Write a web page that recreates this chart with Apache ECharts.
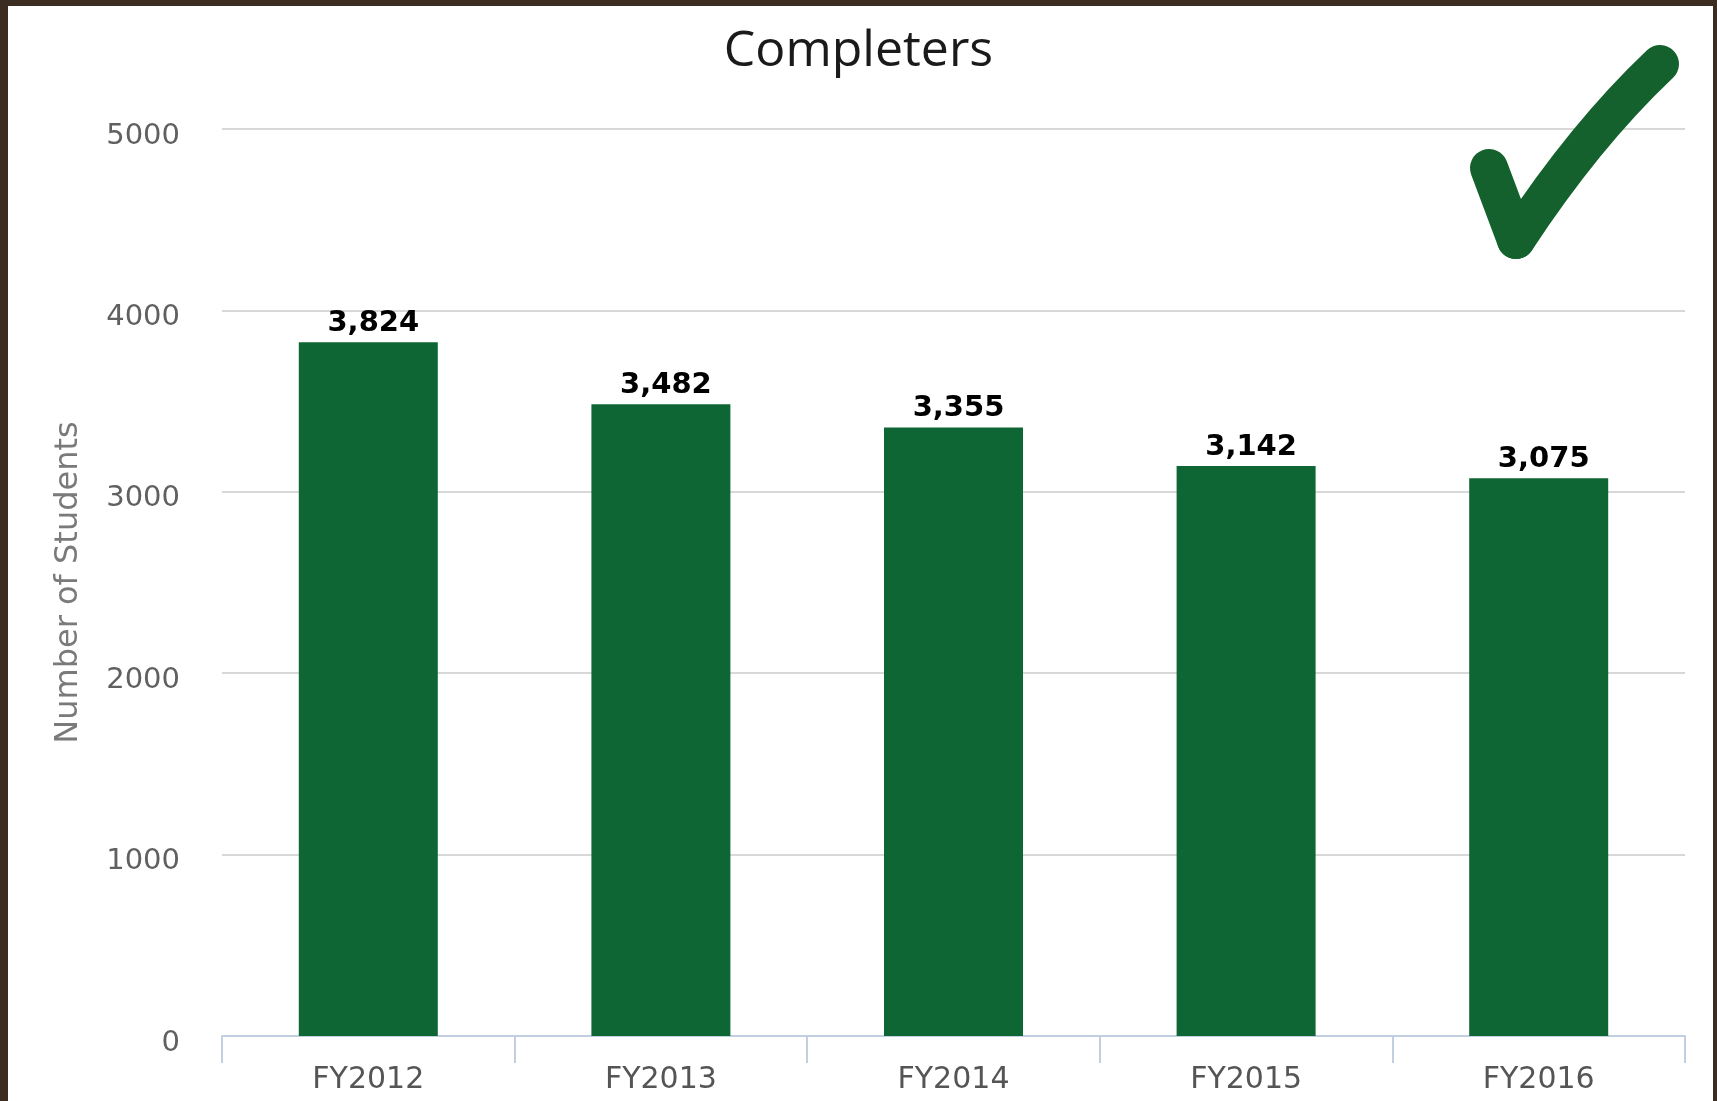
<!DOCTYPE html>
<html>
<head>
<meta charset="utf-8">
<script src="https://cdn.jsdelivr.net/npm/echarts@6/dist/echarts.min.js"></script>
<style>
html,body{margin:0;padding:0;background:#fff;}
#wrap{position:relative;width:1717px;height:1101px;overflow:hidden;}
#chart{position:absolute;left:0;top:0;width:1717px;height:1101px;}
.b{position:absolute;background:#3b2d22;}
</style>
</head>
<body>
<div id="wrap">
<div id="chart"></div>
<div class="b" style="left:0;top:0;width:8px;height:1101px;"></div>
<div class="b" style="left:0;top:0;width:1717px;height:6px;"></div>
<div class="b" style="left:1713px;top:0;width:4px;height:1101px;"></div>
</div>
<script>
const categories = ['FY2012', 'FY2013', 'FY2014', 'FY2015', 'FY2016'];
const completers = [3824, 3482, 3355, 3142, 3075];
const yTicks = [0, 1000, 2000, 3000, 4000, 5000];

const checkStyle = {stroke: '#15612e', lineWidth: 38, lineCap: 'round', lineJoin: 'round', fill: null};

const chart = echarts.init(document.getElementById('chart'), null, {renderer: 'canvas'});
chart.setOption({
  animation: false,
  backgroundColor: '#ffffff',
  title: {
    text: 'Completers',
    left: 'center',
    top: 22,
    textStyle: {fontFamily: 'Open Sans', fontWeight: 'normal', fontSize: 50, color: '#1a1a1a'}
  },
  grid: {left: 222, right: 32, top: 129, bottom: 65, containLabel: false},
  xAxis: {
    type: 'category',
    data: categories,
    axisLine: {lineStyle: {color: '#c0d0e0', width: 2}},
    axisTick: {show: true, interval: 0, length: 27, lineStyle: {color: '#c0d0e0', width: 2}},
    axisLabel: {margin: 29, fontFamily: 'DejaVu Sans', fontSize: 30, color: '#555555'}
  },
  yAxis: {
    type: 'value',
    min: yTicks[0],
    max: yTicks[yTicks.length - 1],
    interval: 1000,
    name: 'Number of Students',
    nameLocation: 'middle',
    nameRotate: 90,
    nameGap: 137,
    nameTextStyle: {fontFamily: 'DejaVu Sans', fontSize: 32, color: '#7a7a7a'},
    axisLine: {show: false},
    axisTick: {show: false},
    axisLabel: {
      margin: 42,
      formatter: v => '{t|' + v + '}',
      rich: {t: {fontFamily: 'DejaVu Sans', fontSize: 29, color: '#606060', padding: [14, 0, 0, 0]}}
    },
    splitLine: {lineStyle: {color: '#d8d8d8', width: 2}}
  },
  series: [{
    type: 'bar',
    data: completers,
    barWidth: 139,
    itemStyle: {color: '#0f6635'},
    label: {
      show: true,
      position: 'top',
      distance: 4,
      offset: [5, 0],
      fontFamily: 'DejaVu Sans',
      fontWeight: 'bold',
      fontSize: 29,
      color: '#000000',
      formatter: p => p.value.toLocaleString('en-US')
    }
  }],
  graphic: [
    {type: 'line', z: 100, shape: {x1: 1489, y1: 168, x2: 1516, y2: 240}, style: checkStyle},
    {type: 'bezierCurve', z: 100, shape: {x1: 1516, y1: 240, x2: 1660, y2: 64, cpx1: 1585, cpy1: 135}, style: checkStyle}
  ]
});
</script>
</body>
</html>
